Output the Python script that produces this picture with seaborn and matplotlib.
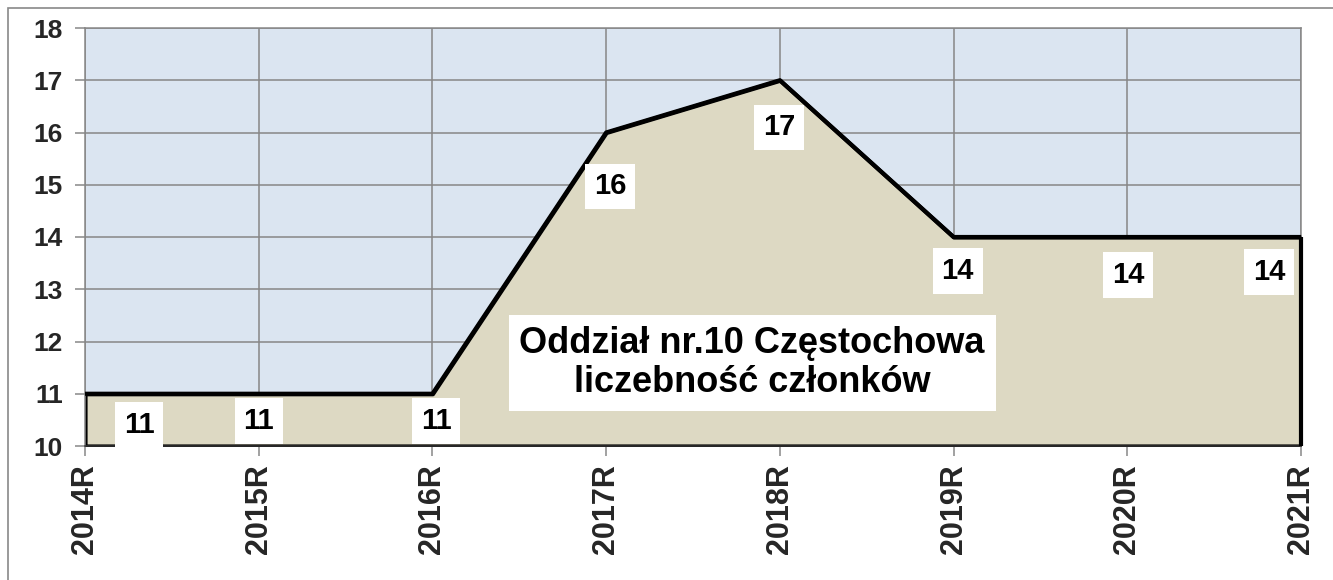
import matplotlib
matplotlib.use("Agg")
import matplotlib.pyplot as plt
import seaborn as sns
import pandas as pd
from matplotlib.patches import Rectangle

years = ["2014R", "2015R", "2016R", "2017R", "2018R", "2019R", "2020R", "2021R"]
members = [11, 11, 11, 16, 17, 14, 14, 14]
y_ticks = [10, 11, 12, 13, 14, 15, 16, 17, 18]
title_lines = ["Oddział nr.10 Częstochowa", "liczebność członków"]

# label offsets in pixels (dx, dy down)
label_offsets = [(54, 31), (0, 27), (4, 27), (4, 54), (-1, 47), (4, 34), (1, 38), (-32, 35)]

sns.set_theme(style="white")
plt.rcParams["font.family"] = ["Liberation Sans", "DejaVu Sans"]

df = pd.DataFrame({"pos": range(len(years)), "year": years, "members": members})

fig = plt.figure(figsize=(13.33, 5.8), dpi=100)
ax = fig.add_axes([85 / 1333, (580 - 446) / 580, (1301 - 85) / 1333, (446 - 28) / 580])
ax.set_facecolor("#dbe5f1")

ax.fill_between(df["pos"], members, 10, facecolor="#ddd9c3", edgecolor="black",
                linewidth=3, zorder=2)
sns.lineplot(data=df, x="pos", y="members", color="black", linewidth=3, ax=ax, zorder=3)
ax.vlines(len(years) - 1, 10, members[-1], color="black", linewidth=3, clip_on=False, zorder=3)

ax.set_xlim(0, len(years) - 1)
ax.set_ylim(10, 18)
ax.set_xticks(range(len(years)))
ax.set_xticklabels(years, rotation=90, fontsize=22, fontweight="bold")
ax.set_yticks(y_ticks)
ax.set_yticklabels([str(v) for v in y_ticks], fontsize=19, fontweight="bold")
ax.set_xlabel("")
ax.set_ylabel("")

ax.grid(True, color="#878787", linewidth=1.1, zorder=1)
ax.set_axisbelow(True)
for s in ax.spines.values():
    s.set_color("#878787")
    s.set_linewidth(1.1)
ax.spines["bottom"].set_color("#333333")
ax.tick_params(axis="both", which="both", length=7, width=1.1, color="#878787",
               direction="out", left=True, bottom=True)
ax.tick_params(axis="y", pad=9)
ax.tick_params(axis="x", pad=6)

for i, (v, (dx, dy)) in enumerate(zip(members, label_offsets)):
    ax.annotate(str(v), xy=(i, v), xytext=(dx, -dy), textcoords="offset pixels",
                ha="center", va="center", fontsize=21, fontweight="bold", color="black",
                bbox=dict(boxstyle="square,pad=0.3", facecolor="white", edgecolor="none"),
                zorder=5)

ax.text(3.84, 11.59, "\n".join(title_lines), ha="center", va="center", fontsize=26,
        fontweight="bold", color="black", linespacing=1.15,
        bbox=dict(boxstyle="square,pad=0.3", facecolor="white", edgecolor="none"), zorder=6)

fig.patches.append(Rectangle((8 / 1333, -0.1), 2.0, 1.1 - 8 / 580, transform=fig.transFigure,
                             fill=False, edgecolor="#898989", linewidth=1.2, zorder=0))

fig.savefig("out.png", dpi=100)
